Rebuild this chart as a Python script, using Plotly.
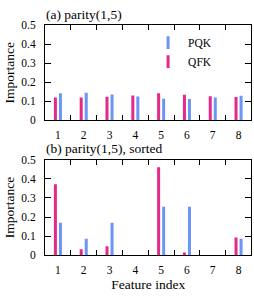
import plotly.graph_objects as go

features = [1, 2, 3, 4, 5, 6, 7, 8]
qfk_a = [0.119, 0.119, 0.124, 0.130, 0.142, 0.134, 0.126, 0.122]
pqk_a = [0.142, 0.144, 0.135, 0.125, 0.113, 0.111, 0.119, 0.129]
qfk_b = [0.372, 0.030, 0.047, 0.0, 0.462, 0.013, 0.0, 0.092]
pqk_b = [0.170, 0.086, 0.170, 0.0, 0.254, 0.254, 0.0, 0.086]
yticks = [0, 0.1, 0.2, 0.3, 0.4, 0.5]
ytick_labels = ["0", "0.1", "0.2", "0.3", "0.4", "0.5"]
xminor = [1.5, 2.5, 3.5, 4.5, 5.5, 6.5, 7.5]

PINK = "#e5298a"
BLUE = "#6a97f5"
FONT = "Liberation Serif"

fig = go.Figure()
fig.add_trace(go.Bar(x=features, y=qfk_a, name="QFK", marker_color=PINK,
                     marker_line_width=0, xaxis="x", yaxis="y", showlegend=False))
fig.add_trace(go.Bar(x=features, y=pqk_a, name="PQK", marker_color=BLUE,
                     marker_line_width=0, xaxis="x", yaxis="y", showlegend=False))
fig.add_trace(go.Bar(x=features, y=qfk_b, name="QFK", marker_color=PINK,
                     marker_line_width=0, xaxis="x2", yaxis="y2", showlegend=False))
fig.add_trace(go.Bar(x=features, y=pqk_b, name="PQK", marker_color=BLUE,
                     marker_line_width=0, xaxis="x2", yaxis="y2", showlegend=False))
# legend entries (thin vertical bar symbols)
fig.add_trace(go.Scatter(x=[None], y=[None], mode="markers", name="PQK",
                         marker=dict(symbol="line-ns", size=9, line=dict(width=3, color=BLUE)),
                         xaxis="x", yaxis="y", legendrank=1))
fig.add_trace(go.Scatter(x=[None], y=[None], mode="markers", name="QFK",
                         marker=dict(symbol="line-ns", size=9, line=dict(width=3, color=PINK)),
                         xaxis="x", yaxis="y", legendrank=2))

tickfont = dict(family=FONT, size=11.5, color="black")
titlefont = dict(family=FONT, size=13.5, color="black")

xcommon = dict(range=[0.5, 8.5], tickvals=features, ticks="", ticklabelstandoff=4,
               minor=dict(tickvals=xminor, ticks="inside", ticklen=5, tickcolor="black", tickwidth=1),
               showline=True, linecolor="black", linewidth=1, mirror="ticks",
               showgrid=False, zeroline=False, tickfont=tickfont)
ycommon = dict(range=[0, 0.5], tickvals=yticks, ticktext=ytick_labels, ticks="inside", ticklen=6,
               tickcolor="black", ticklabelstandoff=6,
               showline=True, linecolor="black", linewidth=1, mirror="ticks",
               showgrid=False, zeroline=False, tickfont=tickfont,
               title=dict(text="Importance", font=titlefont, standoff=3))

fig.update_layout(
    width=254, height=296,
    margin=dict(l=0, r=0, t=0, b=0),
    paper_bgcolor="white", plot_bgcolor="white",
    barmode="group", bargap=0.61, bargroupgap=0.4,
    xaxis=dict(domain=[0.1772, 0.990], anchor="y", **xcommon),
    yaxis=dict(domain=[0.598, 0.932], anchor="x", **ycommon),
    xaxis2=dict(domain=[0.1772, 0.990], anchor="y2",
                title=dict(text="Feature index", font=titlefont, standoff=4),
                **xcommon),
    yaxis2=dict(domain=[0.123, 0.458], anchor="x2", **ycommon),
    legend=dict(x=0.583, y=0.922, xanchor="left", yanchor="top", bgcolor="rgba(0,0,0,0)",
                font=dict(family=FONT, size=11.5, color="black"), itemwidth=30, tracegroupgap=0),
    annotations=[
        dict(text="(a) parity(1,5)", xref="paper", yref="paper", x=0.172, y=1.002,
             xanchor="left", yanchor="top", showarrow=False, font=titlefont),
        dict(text="(b) parity(1,5), sorted", xref="paper", yref="paper", x=0.172, y=0.532,
             xanchor="left", yanchor="top", showarrow=False, font=titlefont),
    ],
)

fig.write_html("out.html", config={"displayModeBar": False},
               post_script="document.body.style.margin='0';document.body.style.overflow='hidden';")
